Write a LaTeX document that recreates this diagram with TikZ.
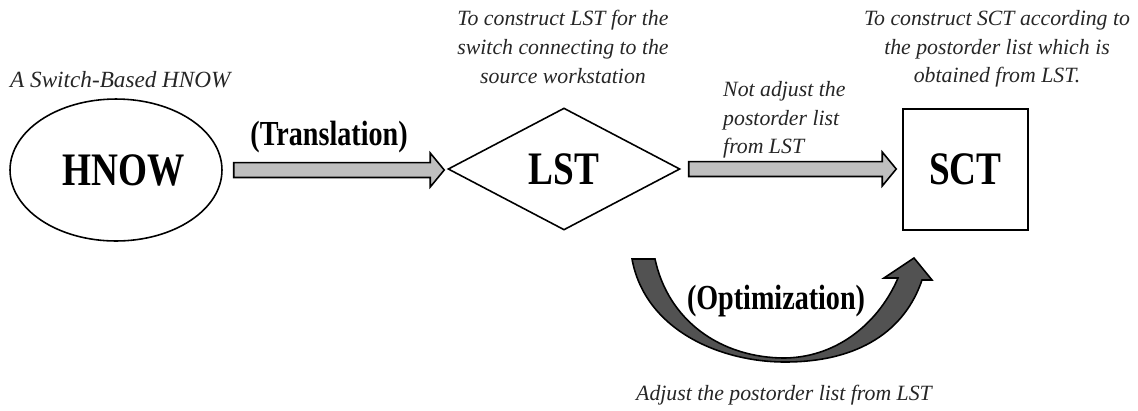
\documentclass[tikz,border=0pt]{standalone}
\usepackage{fontspec}
\setmainfont{Liberation Serif}[FakeStretch=0.8]
\newfontfamily\notefont{Liberation Serif}
\usetikzlibrary{shapes,positioning,calc}

% block arrow from #1 to the tip #2
\newcommand{\blockarrow}[2]{%
  \draw[blockarr] let \p1=(#1), \p2=(#2) in
    (\x1,\y1+4.25pt) -- (\x2-7.94pt,\y1+4.25pt) -- (\x2-7.94pt,\y1+9.64pt) -- (\x2,\y1)
    -- (\x2-7.94pt,\y1-9.64pt) -- (\x2-7.94pt,\y1-4.25pt) -- (\x1,\y1-4.25pt) -- cycle;}

\begin{document}
\begin{tikzpicture}[
    x=0.02cm, y=-0.02cm,
    bignode/.style={draw=black, line width=0.9pt, inner sep=0pt,
        font=\fontsize{26.5}{29}\selectfont\bfseries},
    note/.style={font=\notefont\fontsize{12.4}{16.3}\selectfont\itshape, align=center, text=black!85},
    opname/.style={font=\fontsize{20}{22}\selectfont\bfseries},
    blockarr/.style={draw=black, line width=0.9pt, fill=gray!50, line join=miter},
    curvearr/.style={draw=black, line width=0.9pt, fill=black!68}
]
    \useasboundingbox (0,0) rectangle (1138,410);

    % Main shapes
    \node[bignode, ellipse, minimum width=4.24cm, minimum height=2.84cm] (hnow) at (116,170) {\hspace*{9pt}HNOW};
    \node[bignode, diamond, minimum width=4.64cm, minimum height=2.44cm] (lst) at (564,169) {LST};
    \node[bignode, rectangle, minimum width=2.5cm, minimum height=2.42cm] (sct) at (965.5,169.5) {SCT};

    % Straight arrows
    \blockarrow{$(hnow.east)+(11,0)$}{$(lst.west)+(-3,0)$}
    \blockarrow{$(lst.east)+(8,0)$}{$(sct.west)+(-6,0)$}

    % Curved arrow
    \draw[curvearr] (632,259) .. controls (645,330) and (720,362) .. (785,362)
        .. controls (860,362) and (905,330) .. (922,280) -- (932,280) -- (914,258)
        -- (884,278) -- (898,278) .. controls (880,320) and (840,357) .. (785,358)
        .. controls (720,358) and (668,320) .. (655,259) -- cycle;

    % Labels
    \node[note, anchor=west, font=\notefont\fontsize{13.2}{16}\selectfont\itshape] (hnowlbl) at (4,80) {A Switch-Based HNOW};
    \node[note] (lstlbl) at (563,47) {To construct LST for the\\switch connecting to the\\source workstation};
    \node[note] (sctlbl) at (997,49) {To construct SCT according to\\the postorder list which is\\obtained from LST.};
    \node[note, align=left, anchor=west] (notadj) at (717,120) {Not adjust the\\postorder list\\from LST};
    \node[opname] (translbl) at (329,137) {(Translation)};
    \node[opname] (optlbl) at (776,301) {(Optimization)};
    \node[note] (adjlbl) at (784,395) {Adjust the postorder list from LST};
\end{tikzpicture}
\end{document}
